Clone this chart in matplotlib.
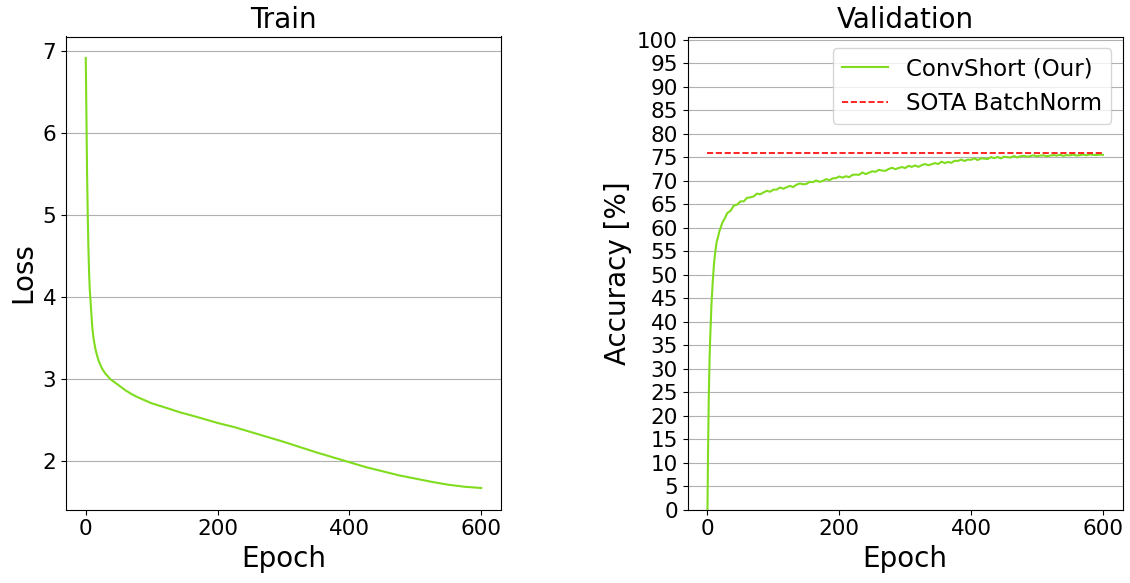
###############################################################################
#  IMPORTS
###############################################################################
import matplotlib
matplotlib.use("Agg")
import matplotlib.pyplot as plt

###############################################################################
#  DATA
###############################################################################

# Train loss, sampled at these epochs
LOSS_EPOCHS = [0, 1, 2, 3, 4, 5, 6, 7, 8, 10, 12, 15, 18, 20, 25, 30, 38, 45,
               50, 60, 70, 80, 100, 120, 143, 170, 200, 225, 250, 275, 300,
               325, 350, 375, 400, 425, 450, 475, 500, 525, 550, 575, 600]
LOSS_VALUES = [6.92, 6.2, 5.5, 5.0, 4.6, 4.3, 4.1, 3.98, 3.85, 3.62, 3.48,
               3.35, 3.26, 3.21, 3.12, 3.06, 2.99, 2.95, 2.92, 2.86, 2.81,
               2.77, 2.7, 2.65, 2.59, 2.53, 2.46, 2.41, 2.35, 2.29, 2.23,
               2.165, 2.1, 2.04, 1.98, 1.92, 1.87, 1.82, 1.78, 1.74, 1.705,
               1.68, 1.665]

# Validation accuracy, early epochs
ACC_EARLY_EPOCHS = [0, 1, 2, 3, 4, 5, 6, 7, 8, 9, 10, 12, 14, 16, 18, 20, 23,
                    26, 30, 35, 40, 45]
ACC_EARLY_VALUES = [0.0, 14.0, 24.0, 31.0, 36.0, 40.0, 43.5, 46.0, 48.5, 50.5,
                    52.5, 55.0, 57.0, 58.0, 59.2, 60.0, 61.2, 61.9, 63.1, 63.6,
                    64.7, 64.9]

# Validation accuracy, every 5 epochs from 50 to 600
ACC_LATE_EPOCHS = list(range(50, 601, 5))
ACC_LATE_VALUES = [
    65.6, 65.6, 66.35, 66.45, 66.65, 67.25, 67.1, 67.5, 67.85, 67.65,
    68.1, 68.1, 68.55, 68.3, 68.6, 68.9, 68.65, 69.15, 69.4, 69.25,
    69.3, 69.75, 69.7, 70.05, 69.75, 69.95, 70.35, 70.1, 70.5, 70.55,
    70.9, 70.65, 70.95, 70.75, 71.25, 71.3, 71.25, 71.75, 71.4, 71.7,
    72.0, 71.9, 72.3, 72.15, 72.1, 72.5, 72.75, 72.45, 72.7, 72.9,
    72.7, 73.15, 72.95, 73.25, 72.95, 73.3, 73.55, 73.3, 73.5, 73.75,
    73.55, 74.05, 73.75, 74.0, 73.8, 74.25, 74.2, 74.5, 74.2, 74.5,
    74.45, 74.75, 74.4, 74.75, 74.7, 74.6, 75.0, 74.8, 75.05, 74.75,
    75.1, 75.0, 74.95, 75.25, 74.95, 75.2, 75.3, 75.1, 75.25, 75.4,
    75.2, 75.35, 75.4, 75.2, 75.35, 75.45, 75.35, 75.5, 75.3, 75.45,
    75.4, 75.55, 75.35, 75.45, 75.55, 75.4, 75.6, 75.5, 75.45, 75.55,
    75.5,
]

SOTA_EPOCHS = [0, 600]
SOTA_ACC = 75.9

ACC_TICKS = list(range(0, 101, 5))

###############################################################################
#  STYLE CONSTANTS
###############################################################################
FIG_W, FIG_H, DPI = 11.3, 5.83, 100
GREEN = "#80dc1e"
TICK_FS = 15.5
LABEL_FS = 20
LEGEND_FS = 16.5

###############################################################################
#  PLOT
###############################################################################
fig = plt.figure(figsize=(FIG_W, FIG_H), dpi=DPI)
W, H = FIG_W * DPI, FIG_H * DPI
ax_loss = fig.add_axes([66 / W, (H - 509.5) / H, 435 / W, 473 / H])
ax_acc = fig.add_axes([687.7 / W, (H - 509.5) / H, 435 / W, 473 / H])

# Train loss
ax_loss.plot(LOSS_EPOCHS, LOSS_VALUES, color=GREEN, linewidth=1.5)
ax_loss.set_title("Train", fontsize=LABEL_FS)
ax_loss.set_xlabel("Epoch", fontsize=LABEL_FS)
ax_loss.set_ylabel("Loss", fontsize=LABEL_FS)
ax_loss.grid(axis="y")
ax_loss.set_xticks([0, 200, 400, 600])
ax_loss.tick_params(labelsize=TICK_FS)

# Validation accuracy
acc_epochs = ACC_EARLY_EPOCHS + ACC_LATE_EPOCHS
acc_values = ACC_EARLY_VALUES + ACC_LATE_VALUES
ax_acc.plot(acc_epochs, acc_values, color=GREEN, linewidth=1.5,
            label="ConvShort (Our)")
ax_acc.plot(SOTA_EPOCHS, [SOTA_ACC] * len(SOTA_EPOCHS), color="red",
            linestyle="--", linewidth=1.2, label="SOTA BatchNorm")
ax_acc.set_title("Validation", fontsize=LABEL_FS)
ax_acc.set_xlabel("Epoch", fontsize=LABEL_FS)
ax_acc.set_ylabel("Accuracy [%]", fontsize=LABEL_FS)
ax_acc.set_yticks(ACC_TICKS)
ax_acc.set_ylim(0, 100.7)
ax_acc.set_xticks([0, 200, 400, 600])
ax_acc.grid(axis="y")
ax_acc.tick_params(labelsize=TICK_FS)
ax_acc.legend(loc="upper right", fontsize=LEGEND_FS)

plt.savefig("out.png", dpi=DPI)
